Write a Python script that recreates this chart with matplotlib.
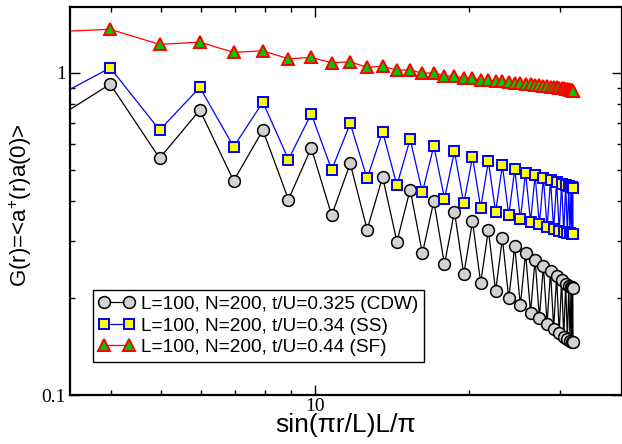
import numpy as np
import matplotlib.pyplot as plt
from matplotlib.ticker import FixedLocator, FixedFormatter, NullFormatter

plt.rcParams["mathtext.fontset"] = "custom"
plt.rcParams["mathtext.rm"] = "Liberation Sans"

# chain length and distances r (first point lies just left of the frame)
L = 100
r = np.arange(3, 51)

# G(r), r = 3 ... 50
g_cdw = [0.692, 0.922, 0.543, 0.766, 0.462, 0.664, 0.404, 0.585, 0.361, 0.523,
         0.326, 0.475, 0.299, 0.434, 0.275, 0.400, 0.2545, 0.371, 0.237, 0.346,
         0.2228, 0.3255, 0.210, 0.306, 0.1993, 0.289, 0.190, 0.276, 0.1803, 0.2633,
         0.1734, 0.2522, 0.1666, 0.2427, 0.1608, 0.2342, 0.1555, 0.2271, 0.1514, 0.2218,
         0.1489, 0.2181, 0.1473, 0.2165, 0.1463, 0.2156, 0.1458, 0.2153]
g_ss = [0.812, 1.036, 0.664, 0.901, 0.589, 0.811, 0.538, 0.746, 0.500, 0.696,
        0.470, 0.656, 0.448, 0.622, 0.426, 0.593, 0.407, 0.570, 0.393, 0.548,
        0.381, 0.531, 0.370, 0.516, 0.361, 0.502, 0.351, 0.490, 0.3446, 0.480,
        0.3382, 0.472, 0.3323, 0.464, 0.327, 0.459, 0.323, 0.453, 0.320, 0.448,
        0.318, 0.445, 0.3175, 0.443, 0.317, 0.441, 0.3165, 0.440]
g_sf = [1.338, 1.364, 1.225, 1.245, 1.157, 1.170, 1.105, 1.116, 1.074, 1.082,
        1.039, 1.049, 1.017, 1.022, 0.996, 1.000, 0.977, 0.979, 0.961, 0.963,
        0.949, 0.949, 0.940, 0.940, 0.934, 0.931, 0.927, 0.924, 0.921, 0.919,
        0.915, 0.913, 0.909, 0.906, 0.903, 0.901, 0.898, 0.896, 0.894, 0.892,
        0.890, 0.888, 0.886, 0.885, 0.883, 0.882, 0.880, 0.879]

labels = ["L=100, N=200, t/U=0.325 (CDW)",
          "L=100, N=200, t/U=0.34 (SS)",
          "L=100, N=200, t/U=0.44 (SF)"]

x = np.sin(np.pi * r / L) * L / np.pi

fig = plt.figure(figsize=(6.22, 4.44), dpi=100)
ax = fig.add_axes([70 / 622, 49 / 444, 552 / 622, 388 / 444])

ax.plot(x, g_cdw, color="black", lw=0.9, marker="o", ms=8.5,
        mfc="#d3d3d3", mec="black", mew=1.1, label=labels[0])
ax.plot(x, g_ss, color="blue", lw=0.9, marker="s", ms=7.5,
        mfc="yellow", mec="blue", mew=1.4, label=labels[1])
ax.plot(x, g_sf, color="red", lw=0.9, marker="^", ms=8.5,
        mfc="#00c800", mec="red", mew=1.4, label=labels[2])

ax.set_xscale("log")
ax.set_yscale("log")
ax.set_xlim(3.33, 39.7)
ax.set_ylim(0.1, 1.6)

ax.xaxis.set_major_locator(FixedLocator([10]))
ax.xaxis.set_major_formatter(FixedFormatter(["10"]))
ax.xaxis.set_minor_locator(FixedLocator([4, 5, 6, 7, 8, 9, 20, 30]))
ax.xaxis.set_minor_formatter(NullFormatter())
ax.yaxis.set_major_locator(FixedLocator([0.1, 1]))
ax.yaxis.set_major_formatter(FixedFormatter(["0.1", "1"]))
ax.yaxis.set_minor_locator(FixedLocator([0.2, 0.3, 0.4, 0.5, 0.6, 0.7, 0.8, 0.9]))
ax.yaxis.set_minor_formatter(NullFormatter())

ax.tick_params(which="both", direction="in", top=True, right=True, width=1.0)
ax.tick_params(which="major", length=7)
ax.tick_params(which="minor", length=3.5)
for lab in ax.get_xticklabels() + ax.get_yticklabels():
    lab.set_family("Liberation Serif")
    lab.set_fontsize(14)
ax.tick_params(axis="x", pad=2)
ax.tick_params(axis="y", pad=3)
for sp in ax.spines.values():
    sp.set_linewidth(1.6)

ax.set_xlabel("sin(\u03c0r/L)L/\u03c0", family="Liberation Sans", fontsize=19, labelpad=-1)
ax.set_ylabel("G(r)=<a$^{+}$(r)a(0)>", family="Liberation Sans", fontsize=16)
ax.yaxis.set_label_coords(-0.066, 0.49)

leg = ax.legend(loc="upper left", bbox_to_anchor=(93 / 622, 1 - 290 / 444),
                bbox_transform=fig.transFigure, borderaxespad=0,
                prop={"family": "Liberation Sans", "size": 13.7},
                numpoints=2, handlelength=1.9, handletextpad=0.3,
                borderpad=0.3, labelspacing=0.22, fancybox=False,
                framealpha=1, edgecolor="black")
leg.get_frame().set_linewidth(1.0)

fig.savefig("out.png", dpi=100)
